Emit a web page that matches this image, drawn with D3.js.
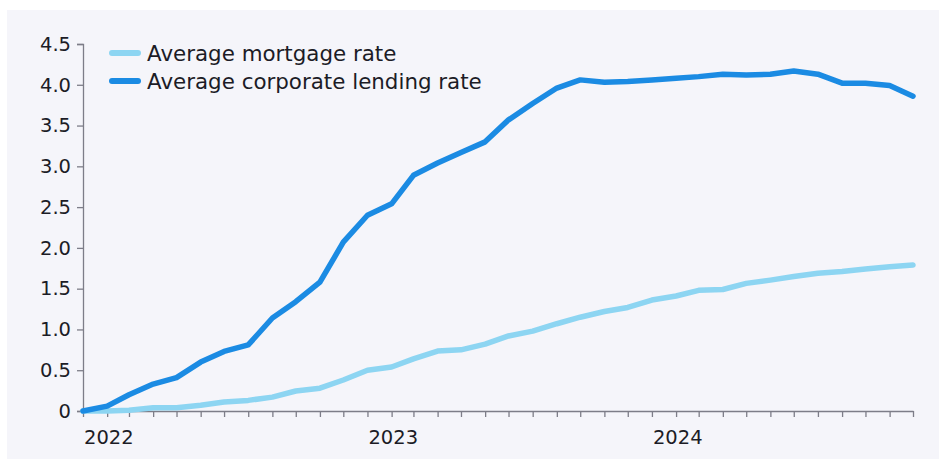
<!DOCTYPE html>
<html>
<head>
<meta charset="utf-8">
<script src="https://cdn.jsdelivr.net/npm/d3@7"></script>
<style>
  html, body { margin: 0; padding: 0; background: #ffffff; }
  svg { display: block; }
</style>
</head>
<body>
<svg id="chart" width="939" height="459"></svg>
<script>
// Monthly observations, Jan 2022 – Dec 2024 (percentage points)
const months = d3.range(36).map(i => new Date(2022, i, 1));
const mortgageRate = [
  0.00, 0.00, 0.01, 0.04, 0.04, 0.07, 0.11, 0.13, 0.17, 0.245, 0.28, 0.38,
  0.50, 0.54, 0.64, 0.735, 0.75, 0.82, 0.92, 0.98, 1.07, 1.15, 1.22, 1.27,
  1.36, 1.41, 1.48, 1.49, 1.565, 1.605, 1.65, 1.69, 1.71, 1.74, 1.77, 1.79
];
const corporateRate = [
  0.00, 0.06, 0.20, 0.33, 0.41, 0.60, 0.73, 0.81, 1.14, 1.34, 1.58, 2.07,
  2.40, 2.54, 2.89, 3.04, 3.17, 3.30, 3.57, 3.77, 3.96, 4.06, 4.03, 4.04,
  4.06, 4.08, 4.10, 4.13, 4.12, 4.13, 4.17, 4.13, 4.02, 4.02, 3.99, 3.86
];
const yTicks = [0, 0.5, 1.0, 1.5, 2.0, 2.5, 3.0, 3.5, 4.0, 4.5];
const yTickLabels = ["0", "0.5", "1.0", "1.5", "2.0", "2.5", "3.0", "3.5", "4.0", "4.5"];
const yearLabels = ["2022", "2023", "2024"];
const seriesNames = ["Average mortgage rate", "Average corporate lending rate"];
const seriesColors = ["#8dd5f2", "#1b8be3"];

const svg = d3.select("#chart");
const W = 939, H = 459;
const margin = { left: 83, right: 26, top: 44, bottom: 48 };
const font = "'DejaVu Sans', sans-serif";
const textColor = "#1c1c26";
const axisColor = "#7d7d88";

// panel background
svg.append("rect")
  .attr("x", 7).attr("y", 10)
  .attr("width", W - 7).attr("height", H - 10)
  .attr("fill", "#f5f5fa");

const x = d3.scaleTime()
  .domain([months[0], months[months.length - 1]])
  .range([margin.left, W - margin.right]);
const y = d3.scaleLinear()
  .domain([0, 4.5])
  .range([H - margin.bottom, margin.top]);

// y axis
const yAxis = svg.append("g")
  .attr("transform", `translate(${margin.left},0)`)
  .call(d3.axisLeft(y).tickValues(yTicks).tickSize(6).tickPadding(6)
    .tickFormat((d, i) => yTickLabels[i]));
yAxis.select(".domain").attr("stroke", axisColor).attr("stroke-width", 1.3);
yAxis.selectAll(".tick line").attr("stroke", axisColor).attr("stroke-width", 1.3);
yAxis.selectAll(".tick text")
  .attr("fill", textColor).style("font-family", font).style("font-size", "19.5px");

// x axis: a tick each month, year labels at January
const xAxis = svg.append("g")
  .attr("transform", `translate(0,${y(0)})`)
  .call(d3.axisBottom(x).tickValues(months).tickSize(6).tickSizeOuter(0).tickFormat(""));
xAxis.select(".domain").attr("stroke", axisColor).attr("stroke-width", 1.3);
xAxis.selectAll(".tick line").attr("stroke", axisColor).attr("stroke-width", 1.3);

svg.append("g").selectAll("text")
  .data(yearLabels)
  .join("text")
  .attr("x", d => x(new Date(+d, 0, 1)) + 1)
  .attr("y", y(0) + 33)
  .attr("text-anchor", "start")
  .attr("fill", textColor)
  .style("font-family", font)
  .style("font-size", "19.5px")
  .text(d => d);

// series lines
const line = d3.line()
  .x((d, i) => x(months[i]))
  .y(d => y(d));

[mortgageRate, corporateRate].forEach((vals, k) => {
  svg.append("path")
    .datum(vals)
    .attr("d", line)
    .attr("fill", "none")
    .attr("stroke", seriesColors[k])
    .attr("stroke-width", 5.5)
    .attr("stroke-linejoin", "round")
    .attr("stroke-linecap", "round");
});

// legend
const legend = svg.append("g").attr("transform", "translate(110,53)");
seriesNames.forEach((name, k) => {
  const g = legend.append("g").attr("transform", `translate(0,${k * 28})`);
  g.append("line")
    .attr("x1", 2).attr("x2", 28).attr("y1", 0).attr("y2", 0)
    .attr("stroke", seriesColors[k]).attr("stroke-width", 6)
    .attr("stroke-linecap", "round");
  g.append("text")
    .attr("x", 37).attr("y", 7.5)
    .attr("fill", textColor)
    .style("font-family", font)
    .style("font-size", "21.4px")
    .text(name);
});
</script>
</body>
</html>
